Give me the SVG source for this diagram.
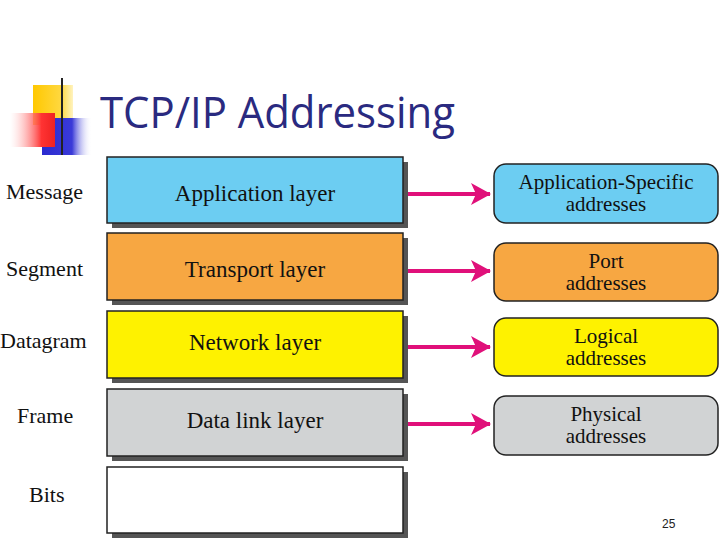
<svg xmlns="http://www.w3.org/2000/svg" width="720" height="540" viewBox="0 0 720 540">
<defs>
<linearGradient id="ul" x1="0" x2="1" y1="0" y2="0"><stop offset="0" stop-color="#222"/><stop offset="0.6" stop-color="#555"/><stop offset="1" stop-color="#ddd"/></linearGradient>
<linearGradient id="rd" x1="0" x2="1"><stop offset="0" stop-color="#fff" stop-opacity="0.3"/><stop offset="0.7" stop-color="#f33"/><stop offset="1" stop-color="#e22"/></linearGradient>
<linearGradient id="bl" x1="0" x2="1"><stop offset="0" stop-color="#2a2ad0"/><stop offset="0.6" stop-color="#3a3ad8"/><stop offset="1" stop-color="#fff" stop-opacity="0"/></linearGradient>
<linearGradient id="yl" x1="0" x2="1"><stop offset="0" stop-color="#ffc800"/><stop offset="0.7" stop-color="#ffd840"/><stop offset="1" stop-color="#fff3c0"/></linearGradient>
<marker id="ah" markerWidth="20" markerHeight="22" refX="19" refY="11" orient="auto" markerUnits="userSpaceOnUse"><path d="M0,0 L20,11 L0,22 L5,11 Z" fill="#e0107a"/></marker>
</defs>
<style>
.sh{fill:#555}
.t{font-family:"Liberation Serif",serif;font-size:23px;fill:#111;text-anchor:middle}
.u{font-family:"Liberation Serif",serif;font-size:21px;fill:#111;text-anchor:middle}
.s{font-family:"Liberation Serif",serif;font-size:22px;fill:#111}
.r{stroke:#222;stroke-width:1.5}
.ar{stroke:#e0107a;stroke-width:4;fill:none}
</style>
<rect width="720" height="540" fill="#fff"/>
<g id="decor">
<rect x="33" y="85" width="40" height="40" fill="url(#yl)"/>
<rect x="42" y="118" width="50" height="37" fill="url(#bl)"/>
<rect x="10" y="113" width="45" height="34" fill="url(#rd)"/>
<line x1="62" y1="78" x2="62" y2="155" stroke="#222" stroke-width="2"/>
<line x1="35" y1="141" x2="460" y2="141" stroke="url(#ul)" stroke-width="2.5"/>
<text x="100" y="128" font-family="'Open Sans','Liberation Sans',sans-serif" font-size="43" textLength="355" lengthAdjust="spacingAndGlyphs" fill="#2a2a80">TCP/IP Addressing</text>
</g>
<g id="labels">
<text class="s" x="6" y="199">Message</text>
<text class="s" x="6" y="276">Segment</text>
<text class="s" x="0" y="348">Datagram</text>
<text class="s" x="17" y="423">Frame</text>
<text class="s" x="29" y="502">Bits</text>
</g>
<g id="app"><rect class="sh" x="112" y="162" width="296" height="66"/><rect class="r" x="107" y="157" width="296" height="66" fill="#6ccdf2"/><text class="t" x="255" y="201">Application layer</text></g>
<g id="transport"><rect class="sh" x="112" y="238" width="296" height="67"/><rect class="r" x="107" y="233" width="296" height="67" fill="#f7a742"/><text class="t" x="255" y="277">Transport layer</text></g>
<g id="network"><rect class="sh" x="112" y="316" width="296" height="67"/><rect class="r" x="107" y="311" width="296" height="67" fill="#fef200"/><text class="t" x="255" y="350">Network layer</text></g>
<g id="datalink"><rect class="sh" x="112" y="394" width="296" height="67"/><rect class="r" x="107" y="389" width="296" height="67" fill="#d1d3d4"/><text class="t" x="255" y="428">Data link layer</text></g>
<g id="bits"><rect class="sh" x="112" y="472" width="296" height="66"/><rect class="r" x="107" y="467" width="296" height="66" fill="#fff"/></g>
<g id="appaddr"><rect class="r" x="494" y="164" width="224" height="59" rx="12" fill="#6ccdf2"/><text class="u" x="606" y="189">Application-Specific</text><text class="u" x="606" y="211">addresses</text></g>
<g id="portaddr"><rect class="r" x="494" y="243" width="224" height="58" rx="12" fill="#f7a742"/><text class="u" x="606" y="268">Port</text><text class="u" x="606" y="290">addresses</text></g>
<g id="logaddr"><rect class="r" x="494" y="318" width="224" height="58" rx="12" fill="#fef200"/><text class="u" x="606" y="343">Logical</text><text class="u" x="606" y="365">addresses</text></g>
<g id="physaddr"><rect class="r" x="494" y="396" width="224" height="59" rx="12" fill="#d1d3d4"/><text class="u" x="606" y="421">Physical</text><text class="u" x="606" y="443">addresses</text></g>
<g id="connectors">
<line class="ar" x1="408" y1="194" x2="490" y2="194" marker-end="url(#ah)"/>
<line class="ar" x1="408" y1="271" x2="490" y2="271" marker-end="url(#ah)"/>
<line class="ar" x1="408" y1="347" x2="490" y2="347" marker-end="url(#ah)"/>
<line class="ar" x1="408" y1="424" x2="490" y2="424" marker-end="url(#ah)"/>
</g>
<text x="662" y="528" font-family="'Liberation Sans',sans-serif" font-size="12" fill="#222">25</text>
</svg>
